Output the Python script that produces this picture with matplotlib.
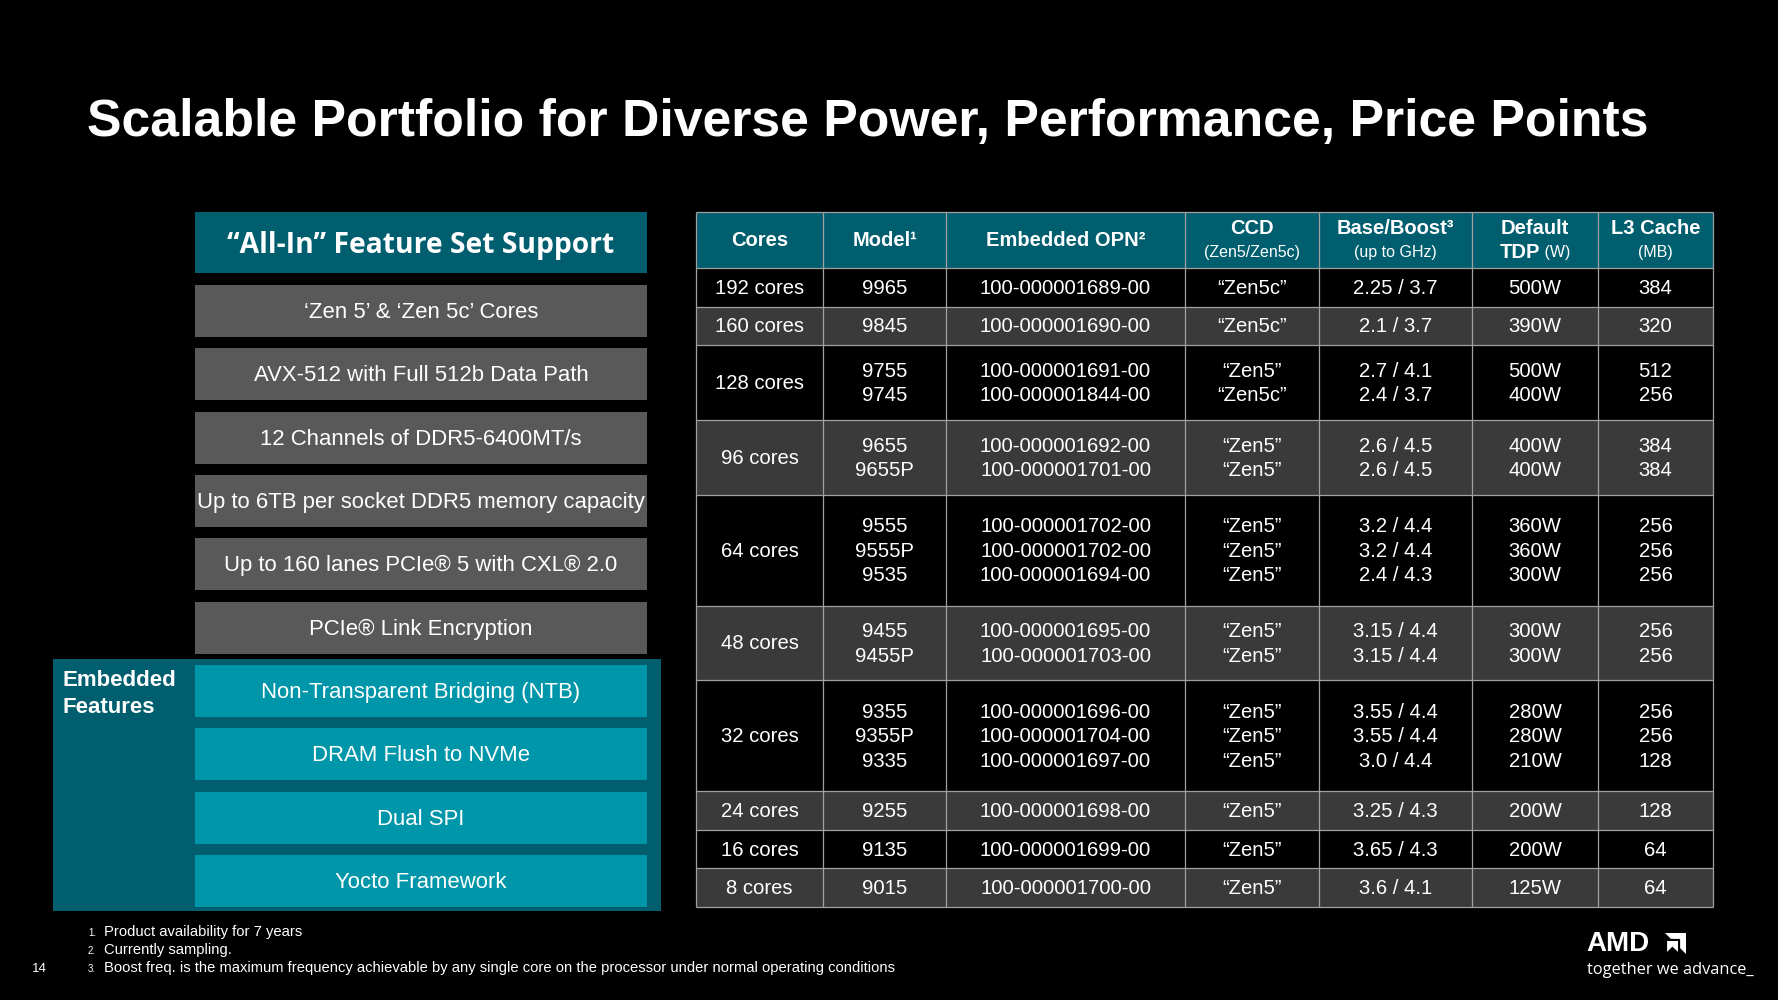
import matplotlib
matplotlib.use("Agg")
import matplotlib.pyplot as plt
from matplotlib.patches import Rectangle, Polygon

plt.rcParams['font.family'] = ['Liberation Sans', 'DejaVu Sans']

# ---------------- data ----------------
title = "Scalable Portfolio for Diverse Power, Performance, Price Points"

feature_header = "\u201cAll-In\u201d Feature Set Support"
features = ["\u2018Zen 5\u2019 & \u2018Zen 5c\u2019 Cores",
            "AVX-512 with Full 512b Data Path",
            "12 Channels of DDR5-6400MT/s",
            "Up to 6TB per socket DDR5 memory capacity",
            "Up to 160 lanes PCIe\u00ae 5 with CXL\u00ae 2.0",
            "PCIe\u00ae Link Encryption"]
embedded_label = "Embedded\nFeatures"
embedded_features = ["Non-Transparent Bridging (NTB)",
                     "DRAM Flush to NVMe",
                     "Dual SPI",
                     "Yocto Framework"]

col_headers_l1 = ["Cores", "Model\u00b9", "Embedded OPN\u00b2", "CCD", "Base/Boost\u00b3", "Default", "L3 Cache"]
col_headers_l2 = ["", "", "", "(Zen5/Zen5c)", "(up to GHz)", "TDP", "(MB)"]

core_groups = ["192 cores", "160 cores", "128 cores", "96 cores", "64 cores",
               "48 cores", "32 cores", "24 cores", "16 cores", "8 cores"]
group_of_model = [0, 1, 2, 2, 3, 3, 4, 4, 4, 5, 5, 6, 6, 6, 7, 8, 9]
models = ["9965", "9845", "9755", "9745", "9655", "9655P", "9555", "9555P", "9535",
          "9455", "9455P", "9355", "9355P", "9335", "9255", "9135", "9015"]
opns = ["100-000001689-00", "100-000001690-00", "100-000001691-00", "100-000001844-00",
        "100-000001692-00", "100-000001701-00", "100-000001702-00", "100-000001702-00",
        "100-000001694-00", "100-000001695-00", "100-000001703-00", "100-000001696-00",
        "100-000001704-00", "100-000001697-00", "100-000001698-00", "100-000001699-00",
        "100-000001700-00"]
ccds = ["Zen5c", "Zen5c", "Zen5", "Zen5c", "Zen5", "Zen5", "Zen5", "Zen5", "Zen5",
        "Zen5", "Zen5", "Zen5", "Zen5", "Zen5", "Zen5", "Zen5", "Zen5"]
base_ghz = ["2.25", "2.1", "2.7", "2.4", "2.6", "2.6", "3.2", "3.2", "2.4",
            "3.15", "3.15", "3.55", "3.55", "3.0", "3.25", "3.65", "3.6"]
boost_ghz = ["3.7", "3.7", "4.1", "3.7", "4.5", "4.5", "4.4", "4.4", "4.3",
             "4.4", "4.4", "4.4", "4.4", "4.4", "4.3", "4.3", "4.1"]
tdp_w = [500, 390, 500, 400, 400, 400, 360, 360, 300, 300, 300, 280, 280, 210, 200, 200, 125]
l3_mb = [384, 320, 512, 256, 384, 384, 256, 256, 256, 256, 256, 256, 256, 128, 128, 64, 64]

footnotes = ["Product availability for 7 years",
             "Currently sampling.",
             "Boost freq. is the maximum frequency achievable by any single core on the processor under normal operating conditions"]
page_number = "14"

# ---------------- style ----------------
W, H = 1778, 1000
TEAL_DARK = "#005e6e"
TEAL = "#0096a9"
GRAY_BOX = "#595959"
ROW_GRAY = "#3a3a3a"
GRID = "#a0a0a0"

fig = plt.figure(figsize=(W / 100, H / 100), dpi=100, facecolor="black")
ax = fig.add_axes([0, 0, 1, 1])
ax.set_xlim(0, W)
ax.set_ylim(H, 0)
ax.axis("off")
ax.set_facecolor("black")

# title
ax.text(87, 122, title, color="white", fontsize=37.3, fontweight="bold",
        ha="left", va="center")

# ---------------- left feature panel ----------------
bx0, bx1 = 195, 647
ax.add_patch(Rectangle((bx0, 212), bx1 - bx0, 61, color=TEAL_DARK, lw=0))
ax.text((bx0 + bx1) / 2, 246, feature_header, color="white", fontsize=20.3,
        fontweight="bold", family=["Open Sans", "DejaVu Sans"], ha="center", va="center")

box_h = 52
pitch = 63.3
y0 = 285
BOX_FS = 15.9
for i, f in enumerate(features):
    y = y0 + i * pitch
    ax.add_patch(Rectangle((bx0, y), bx1 - bx0, box_h, color=GRAY_BOX, lw=0))
    ax.text((bx0 + bx1) / 2, y + box_h / 2 + 1.5, f, color="white", fontsize=BOX_FS,
            ha="center", va="center")

# embedded container
ax.add_patch(Rectangle((53, 659), 661 - 53, 252, color=TEAL_DARK, lw=0))
ax.text(63, 694, embedded_label, color="white", fontsize=16, fontweight="bold",
        ha="left", va="center", linespacing=1.33)
ey0 = 665
for i, f in enumerate(embedded_features):
    y = ey0 + i * pitch
    ax.add_patch(Rectangle((bx0, y), bx1 - bx0, box_h, color=TEAL, lw=0))
    ax.text((bx0 + bx1) / 2, y + box_h / 2 + 1.5, f, color="white", fontsize=BOX_FS,
            ha="center", va="center")

# ---------------- table ----------------
col_edges = [696, 823, 946, 1185, 1319, 1472, 1598, 1713]
centers = [(col_edges[i] + col_edges[i + 1]) / 2 for i in range(len(col_edges) - 1)]
hdr_top, hdr_bot = 212, 268
ax.add_patch(Rectangle((col_edges[0], hdr_top), col_edges[-1] - col_edges[0],
                       hdr_bot - hdr_top, color=TEAL_DARK, lw=0))

fig.canvas.draw()
renderer = fig.canvas.get_renderer()
HDR_FS = 14.5
SUB_FS = 11.5
for i, (l1, l2) in enumerate(zip(col_headers_l1, col_headers_l2)):
    cx = centers[i]
    if not l2:
        ax.text(cx, 241, l1, color="white", fontsize=HDR_FS, fontweight="bold",
                ha="center", va="center")
    else:
        ax.text(cx, 229, l1, color="white", fontsize=HDR_FS, fontweight="bold",
                ha="center", va="center")
        if l2 == "TDP":
            t1 = ax.text(0, 252, "TDP", color="white", fontsize=HDR_FS, fontweight="bold",
                         ha="left", va="center")
            t2 = ax.text(0, 253, " (W)", color="white", fontsize=SUB_FS,
                         ha="left", va="center")
            w1 = t1.get_window_extent(renderer).width
            w2 = t2.get_window_extent(renderer).width
            start = cx - (w1 + w2) / 2
            t1.set_x(start)
            t2.set_x(start + w1)
        else:
            ax.text(cx, 252, l2, color="white", fontsize=SUB_FS,
                    ha="center", va="center")

# row geometry from number of models per group
n_per_group = [group_of_model.count(g) for g in range(len(core_groups))]
row_heights = [38.5 + 36 * (n - 1) for n in n_per_group]
tbl_bot = 907
scale = (tbl_bot - hdr_bot) / sum(row_heights)
row_heights = [h * scale for h in row_heights]
line_pitch = 24.3
CELL_FS = 14.6

y = hdr_bot
row_tops = []
for g, h in enumerate(row_heights):
    row_tops.append(y)
    color = "black" if g % 2 == 0 else ROW_GRAY
    ax.add_patch(Rectangle((col_edges[0], y), col_edges[-1] - col_edges[0], h,
                           color=color, lw=0))
    cy = y + h / 2
    ax.text(centers[0], cy + 1, core_groups[g], color="white", fontsize=CELL_FS,
            ha="center", va="center")
    idx = [k for k, gg in enumerate(group_of_model) if gg == g]
    n = len(idx)
    for j, k in enumerate(idx):
        ly = cy + (j - (n - 1) / 2) * line_pitch + 1
        vals = [models[k], opns[k], "\u201c" + ccds[k] + "\u201d",
                base_ghz[k] + " / " + boost_ghz[k], f"{tdp_w[k]}W", str(l3_mb[k])]
        for c, v in enumerate(vals):
            ax.text(centers[c + 1], ly, v, color="white", fontsize=CELL_FS,
                    ha="center", va="center")
    y += h
row_tops.append(y)

# grid lines
for x in col_edges:
    ax.plot([x, x], [hdr_top, tbl_bot], color=GRID, lw=0.9, solid_capstyle="butt")
for yy in [hdr_top] + row_tops:
    ax.plot([col_edges[0], col_edges[-1]], [yy, yy], color=GRID, lw=0.9,
            solid_capstyle="butt")

# ---------------- footnotes ----------------
for i, t in enumerate(footnotes):
    fy = 932 + i * 18
    ax.text(88, fy + 1, f"{i + 1}.", color="white", fontsize=7, ha="left", va="center")
    ax.text(104, fy, t, color="white", fontsize=10.65, ha="left", va="center")
ax.text(32, 969, page_number, color="white", fontsize=9.5, ha="left", va="center")

# ---------------- AMD logo ----------------
ax.text(1586, 944, "AMD", color="white", fontsize=20, fontweight="bold",
        ha="left", va="center")
lx, ly, s = 1665, 933, 21
logo = Polygon([(lx, ly), (lx + s, ly), (lx + s, ly + s), (lx + s * 0.72, ly + s * 0.72),
                (lx + s * 0.72, ly + s * 0.28), (lx + s * 0.28, ly + s * 0.28)],
               closed=True, color="white", lw=0)
ax.add_patch(logo)
logo2 = Polygon([(lx + s * 0.62, ly + s * 0.38), (lx + s * 0.62, ly + s * 0.9),
                 (lx + s * 0.35, ly + s * 0.65), (lx + s * 0.1, ly + s * 0.9),
                 (lx + s * 0.1, ly + s * 0.38)],
               closed=True, color="white", lw=0)
ax.add_patch(logo2)
ax.text(1587, 970, "together we advance_", color="white", fontsize=11.8,
        family=["Open Sans", "DejaVu Sans"], ha="left", va="center")

fig.savefig("out.png", dpi=100, facecolor="black")
